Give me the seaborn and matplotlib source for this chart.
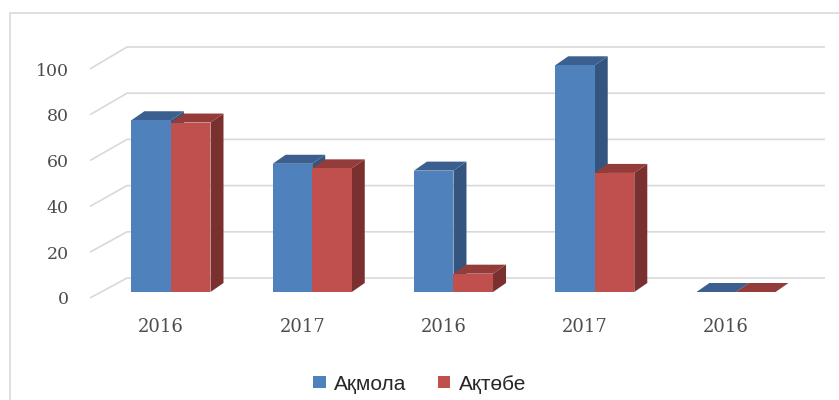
import matplotlib
matplotlib.use('Agg')
import matplotlib.pyplot as plt
import matplotlib.transforms as mtransforms
from matplotlib.patches import Polygon, Rectangle
import seaborn as sns
import pandas as pd

years = ['2016', '2017', '2016', '2017', '2016']
akmola = [75, 56, 53, 99, 0]
aktobe = [74, 54, 8, 52, 0]
regions = ['Ақмола', 'Ақтөбе']
yticks = [0, 20, 40, 60, 80, 100]

# front / top / side shades of the excel 3d bars
shades = {
    'Ақмола': ('#4F81BD', '#3B6090', '#34557F'),
    'Ақтөбе': ('#C0504D', '#933C39', '#7A302E'),
}

rows = []
for i in range(len(years)):
    rows.append({'pos': i, 'region': regions[0], 'value': akmola[i]})
    rows.append({'pos': i, 'region': regions[1], 'value': aktobe[i]})
df = pd.DataFrame(rows)

sns.set_style('white')
plt.rcParams['font.family'] = ['Liberation Sans', 'DejaVu Sans']

fig = plt.figure(figsize=(8.39, 4.0), dpi=100)
ax = fig.add_axes([90 / 839, 108 / 400, 735 / 839, 229 / 400])

sns.barplot(data=df, x='pos', y='value', hue='region', hue_order=regions,
            palette=[shades[r][0] for r in regions], width=0.56, gap=0,
            saturation=1, errorbar=None, legend=False, ax=ax)

ax.set_xlim(-0.573, 4.630)
ax.set_ylim(0, 100)

# depth of the bars (13 px across, 9 px up)
dx = 13 / 141.3
dy = 9 / 2.29

bars = list(ax.patches)
front_to_region = {matplotlib.colors.to_hex(shades[r][0]).lower(): r for r in regions}
for p in bars:
    x, w, h = p.get_x(), p.get_width(), p.get_height()
    reg = front_to_region[matplotlib.colors.to_hex(p.get_facecolor()).lower()]
    _, top_c, side_c = shades[reg]
    p.set_edgecolor('none')
    p.set_zorder(3)
    side = Polygon([(x + w, 0), (x + w, h), (x + w + dx, h + dy), (x + w + dx, dy)],
                   closed=True, facecolor=side_c, edgecolor='none', zorder=2, clip_on=False)
    top = Polygon([(x, h), (x + w, h), (x + w + dx, h + dy), (x + dx, h + dy)],
                  closed=True, facecolor=top_c, edgecolor='none', zorder=2, clip_on=False)
    ax.add_patch(side)
    ax.add_patch(top)

# perspective gridlines: front edge, diagonal to the back wall, then across
x_front, x_back, x_right = -0.573, -0.311, 4.630
for v in yticks:
    yb = v * 1.009 + 6.1
    ax.plot([x_front, x_back, x_right], [v - 2.6, yb, yb], color='#D9D9D9',
            lw=1.2, zorder=0, clip_on=False, solid_capstyle='butt')

for s in ax.spines.values():
    s.set_visible(False)
ax.grid(False)
ax.set_xlabel('')
ax.set_ylabel('')

ax.set_yticks(yticks)
ax.set_yticklabels([str(v) for v in yticks], family='DejaVu Serif',
                   fontsize=12.5, color='#4D4D4D')
ax.set_xticks(range(len(years)))
ax.set_xticklabels(years, family='DejaVu Serif', fontsize=13, color='#4D4D4D')
ax.tick_params(axis='y', length=0, pad=15.5)
ax.tick_params(axis='x', length=0, pad=19)

shift_y = mtransforms.ScaledTranslation(0, -6 / 100, fig.dpi_scale_trans)
for lab in ax.get_yticklabels():
    lab.set_transform(lab.get_transform() + shift_y)
shift_x = mtransforms.ScaledTranslation(-10 / 100, 0, fig.dpi_scale_trans)
for lab in ax.get_xticklabels():
    lab.set_transform(lab.get_transform() + shift_x)

handles = [Rectangle((0, 0), 1, 1, facecolor=shades[r][0], edgecolor='none') for r in regions]
fig.legend(handles, regions, loc='center', bbox_to_anchor=(0.5, 0.04), ncol=2,
           frameon=False, fontsize=15, handlelength=0.6, handleheight=0.5,
           handletextpad=0.4, columnspacing=1.5)

# chart area border
fig.patches.append(Rectangle((9.5 / 839, -0.1), 1.2, 1.1 - 13.5 / 400,
                             transform=fig.transFigure, fill=False,
                             edgecolor='#D9D9D9', lw=1.2, zorder=0))

fig.savefig('out.png', dpi=100)
